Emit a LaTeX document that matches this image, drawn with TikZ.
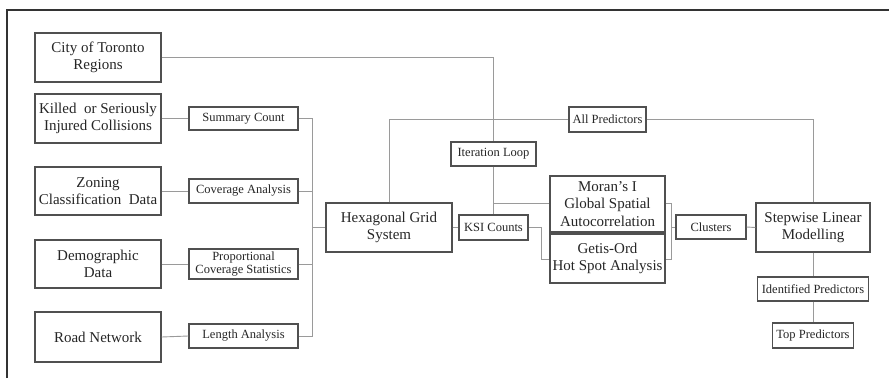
\documentclass[tikz,border=0pt]{standalone}
\usepackage{fontspec}
\setmainfont{Liberation Serif}
\definecolor{boxc}{HTML}{505050}
\definecolor{linec}{HTML}{9A9A9A}
\tikzset{
  big/.style={draw=boxc, line width=1.4pt, inner sep=0pt, align=center,
    font=\fontsize{15}{17.5}\selectfont, text=black!85},
  small/.style={draw=boxc, line width=1.2pt, inner sep=0pt, align=center,
    font=\fontsize{12.5}{13}\selectfont, text=black!85},
  conn/.style={draw=linec, line width=0.9pt},
  frame/.style={draw=black!80, line width=1.4pt}
}
\begin{document}
\begin{tikzpicture}[x=1pt,y=-1pt]
\useasboundingbox (0,0) rectangle (889,378);
\fill[white] (0,0) rectangle (889,378);
\coordinate (fa) at (7,378);
\coordinate (fb) at (7,10);
\coordinate (fc) at (889,10);
\draw[frame] (fa) -- (fb) -- (fc);

% left column
\node[big, minimum width=126pt, minimum height=49pt] (city) at (98,57.5) {City of Toronto\\Regions};
\node[big, minimum width=126pt, minimum height=49pt] (ksi) at (98,118.5) {Killed\ \ or Seriously\\Injured Collisions};
\node[big, minimum width=126pt, minimum height=48pt] (zon) at (98,191) {Zoning\\Classification\ \ Data};
\node[big, minimum width=126pt, minimum height=48pt] (demo) at (98,264) {Demographic\\Data};
\node[big, minimum width=126pt, minimum height=50pt] (road) at (98,337) {Road Network};

% processing column
\node[small, minimum width=109pt, minimum height=23pt] (sum) at (243.5,118.5) {Summary Count};
\node[small, minimum width=109pt, minimum height=24pt] (cov) at (243.5,191) {Coverage Analysis};
\node[small, minimum width=109pt, minimum height=30pt] (prop) at (243.5,264) {Proportional\\Coverage Statistics};
\node[small, minimum width=109pt, minimum height=24pt] (len) at (243.5,336) {Length Analysis};

% centre
\node[big, minimum width=126pt, minimum height=49pt] (hex) at (389,227.5) {Hexagonal Grid\\System};
\node[small, minimum width=77pt, minimum height=25pt] (allp) at (607.5,119.5) {All Predictors};
\node[small, minimum width=85pt, minimum height=24pt] (iter) at (493.5,154) {Iteration Loop};
\node[small, minimum width=69pt, minimum height=25pt] (ksic) at (493.5,227.5) {KSI Counts};
\node[big, minimum width=115pt, minimum height=56pt] (moran) at (607.5,204) {Moran's I\\Global Spatial\\Autocorrelation};
\node[big, minimum width=115pt, minimum height=49pt] (getis) at (607.5,258.5) {Getis-Ord\\Hot Spot Analysis};
\node[small, minimum width=70pt, minimum height=24pt] (clus) at (711,227) {Clusters};
\node[big, minimum width=114pt, minimum height=49pt] (step) at (813,227.5) {Stepwise Linear\\Modelling};
\node[small, minimum width=111pt, minimum height=24pt] (ident) at (813,289) {Identified Predictors};
\node[small, minimum width=81pt, minimum height=25pt] (top) at (813,335.5) {Top Predictors};

% bus coordinates
\coordinate (bus) at (312,0);
\coordinate (kx) at (541,0);
\coordinate (mx) at (671,0);
\coordinate (yhi) at (0,203);
\coordinate (ylo) at (0,259);

% connectors
\draw[conn] (city.east) -- (city.east -| iter.north) -- (iter.north);
\draw[conn] (iter.south) -- (ksic.north);
\draw[conn] (iter.south |- yhi) -- (moran.west |- yhi);

\draw[conn] (ksi.east) -- (sum.west);
\draw[conn] (zon.east) -- (cov.west);
\draw[conn] (demo.east) -- (prop.west);
\draw[conn] (road.east) -- (len.west);
\draw[conn] (sum.east) -- (bus |- sum.east) -- (bus |- len.east) -- (len.east);
\draw[conn] (cov.east) -- (bus |- cov.east);
\draw[conn] (prop.east) -- (bus |- prop.east);
\draw[conn] (bus |- hex.west) -- (hex.west);

\draw[conn] (hex.north) -- (hex.north |- allp.west) -- (allp.west);
\draw[conn] (allp.east) -- (step.north |- allp.east) -- (step.north);
\draw[conn] (hex.east) -- (ksic.west);
\draw[conn] (ksic.east) -- (kx |- ksic.east) -- (kx |- ylo) -- (getis.west |- ylo);

\draw[conn] (moran.east |- yhi) -- (mx |- yhi) -- (mx |- ylo) -- (getis.east |- ylo);
\draw[conn] (mx |- clus.west) -- (clus.west);
\draw[conn] (clus.east) -- (step.west);
\draw[conn] (step.south) -- (ident.north);
\draw[conn] (ident.south) -- (top.north);
\end{tikzpicture}
\end{document}
